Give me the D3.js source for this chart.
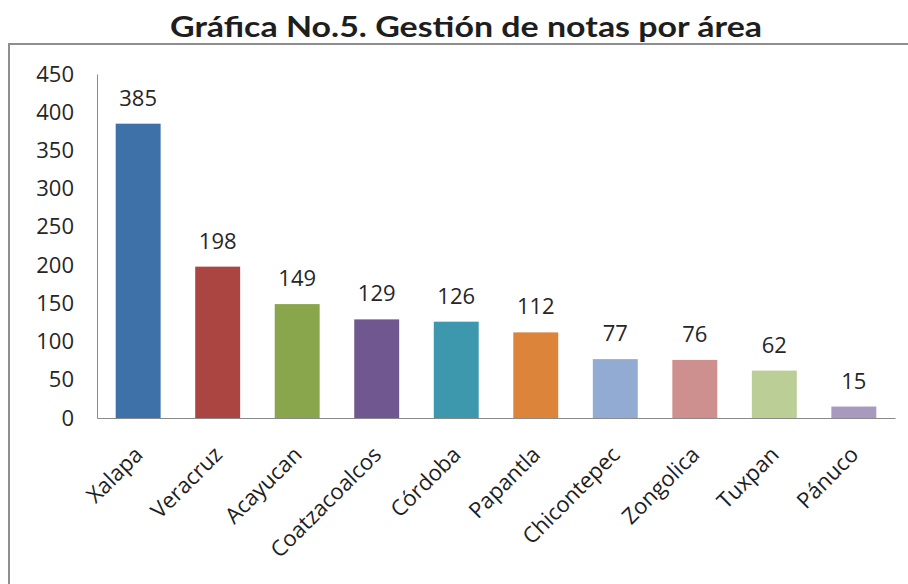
<!DOCTYPE html>
<html>
<head>
<meta charset="utf-8">
<script src="https://cdn.jsdelivr.net/npm/d3@7"></script>
<style>
    body { margin: 0; background: #fff; }
    svg { display: block; }
</style>
</head>
<body>
<div id="chart-container"></div>
<script>
// Data
const areas = ['Xalapa', 'Veracruz', 'Acayucan', 'Coatzacoalcos', 'Córdoba',
    'Papantla', 'Chicontepec', 'Zongolica', 'Tuxpan', 'Pánuco'];
const notas = [385, 198, 149, 129, 126, 112, 77, 76, 62, 15];
const yTicks = [0, 50, 100, 150, 200, 250, 300, 350, 400, 450];
const barColors = ['#3e71a8', '#ab4542', '#89a64c', '#70578f', '#3d97ad',
    '#dc843a', '#91abd2', '#ce8f8f', '#bbce96', '#a899bf'];

const WIDTH = 908, HEIGHT = 584;
const TITLE = 'Gráfica No.5. Gestión de notas por área';
const FONT = '"Open Sans", "Noto Sans", sans-serif';

const svg = d3.select('#chart-container').append('svg')
    .attr('width', WIDTH)
    .attr('height', HEIGHT);

// Frame around the chart (open to the right and bottom, as in the scan)
svg.append('path')
    .attr('d', `M9,${HEIGHT + 5} V44 H${WIDTH + 5}`)
    .attr('fill', 'none')
    .attr('stroke', '#8e8e8e')
    .attr('stroke-width', 2);

svg.append('text')
    .attr('x', 466)
    .attr('y', 37)
    .attr('text-anchor', 'middle')
    .attr('font-family', '"Lato", "DejaVu Sans", sans-serif')
    .attr('font-weight', 'bold')
    .attr('font-size', 28)
    .attr('textLength', 592)
    .attr('lengthAdjust', 'spacingAndGlyphs')
    .attr('fill', '#1e1e1e')
    .text(TITLE);

// Scales
const xScale = d3.scaleBand()
    .domain(areas)
    .range([97, 895])
    .paddingInner(0.435)
    .paddingOuter(0.235);

const yScale = d3.scaleLinear()
    .domain([0, 450])
    .range([418, 74]);

// Bars
svg.append('g')
    .selectAll('rect')
    .data(areas)
    .enter()
    .append('rect')
        .attr('x', d => xScale(d))
        .attr('width', xScale.bandwidth())
        .attr('y', (d, i) => yScale(notas[i]))
        .attr('height', (d, i) => yScale(0) - yScale(notas[i]))
        .attr('fill', (d, i) => barColors[i]);

// Y axis: line plus labels, no tick marks
const yAxis = svg.append('g')
    .attr('transform', `translate(${xScale.range()[0]},0)`)
    .call(d3.axisLeft(yScale)
        .tickValues(yTicks)
        .tickSize(0)
        .tickPadding(23));
yAxis.select('.domain').attr('stroke', '#8a8a8a');
yAxis.selectAll('text')
    .attr('font-family', FONT)
    .attr('font-size', 22)
    .attr('fill', '#262626');

// X axis line
const xAxis = svg.append('g')
    .attr('transform', `translate(0,${yScale(0)})`)
    .call(d3.axisBottom(xScale).tickSize(0).tickFormat(''));
xAxis.select('.domain').attr('stroke', '#8a8a8a');

// Rotated category labels
svg.append('g')
    .selectAll('text')
    .data(areas)
    .enter()
    .append('text')
        .attr('transform', d =>
            `translate(${xScale(d) + xScale.bandwidth() / 2 + 6}, 456) rotate(-45)`)
        .attr('text-anchor', 'end')
        .attr('font-family', FONT)
        .attr('font-size', 22)
        .attr('fill', '#1e1e1e')
        .text(d => d);

// Value labels above bars
svg.append('g')
    .selectAll('text')
    .data(areas)
    .enter()
    .append('text')
        .attr('x', d => xScale(d) + xScale.bandwidth() / 2)
        .attr('y', (d, i) => yScale(notas[i]) - 18)
        .attr('text-anchor', 'middle')
        .attr('font-family', FONT)
        .attr('font-size', 22)
        .attr('fill', '#262626')
        .text((d, i) => notas[i]);
</script>
</body>
</html>
